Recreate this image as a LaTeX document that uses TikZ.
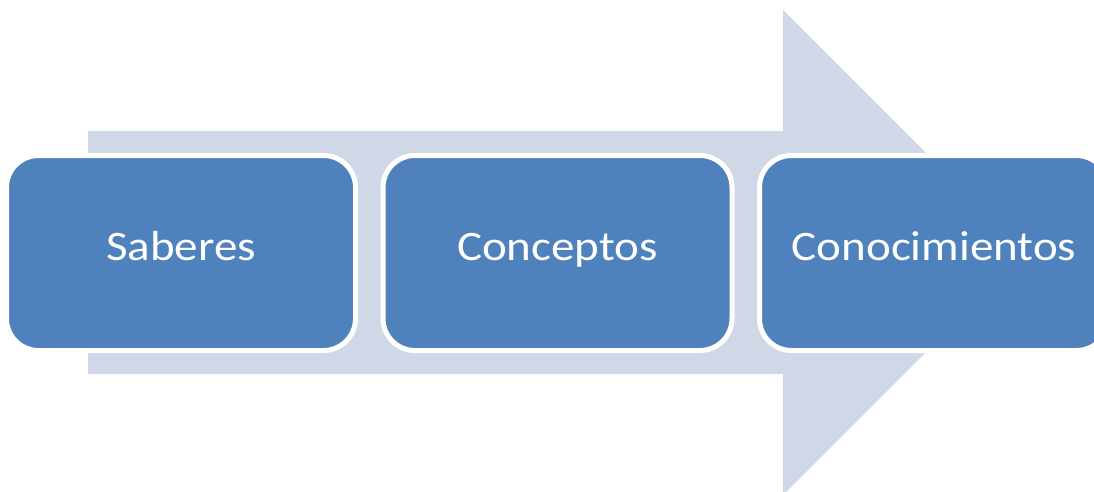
\documentclass[tikz,border=0pt]{standalone}
\usepackage{fontspec}
\setmainfont{Carlito}
\definecolor{boxblue}{HTML}{4F81BD}
\definecolor{arrowlight}{HTML}{D0D8E8}
\begin{document}
\begin{tikzpicture}[x=1pt,y=1pt,
  stagebox/.style={rectangle, rounded corners=32pt, fill=boxblue, draw=white,
    line width=5pt, minimum width=349pt, minimum height=195pt, inner sep=0pt,
    text=white, font=\fontsize{42}{48}\selectfont, text height=26.5pt, text depth=11pt}]
\useasboundingbox (0,0) rectangle (1094,491);
\clip (0,0) rectangle (1094,491);
% big arrow (image y flipped: y = 491 - y_img)
\fill[arrowlight] (88,360) -- (783,360) -- (783,481) -- (1025.5,238.5)
  -- (783,-4) -- (783,117) -- (88,117) -- cycle;
\node[stagebox] (s1) at (181,238) {\scalebox{1.12}[1]{Saberes}};
\node[stagebox] (s2) at (557.5,238) {\scalebox{1.12}[1]{Conceptos}};
\node[stagebox] (s3) at (934,238) {\scalebox{1.12}[1]{Conocimientos}};
\end{tikzpicture}
\end{document}
